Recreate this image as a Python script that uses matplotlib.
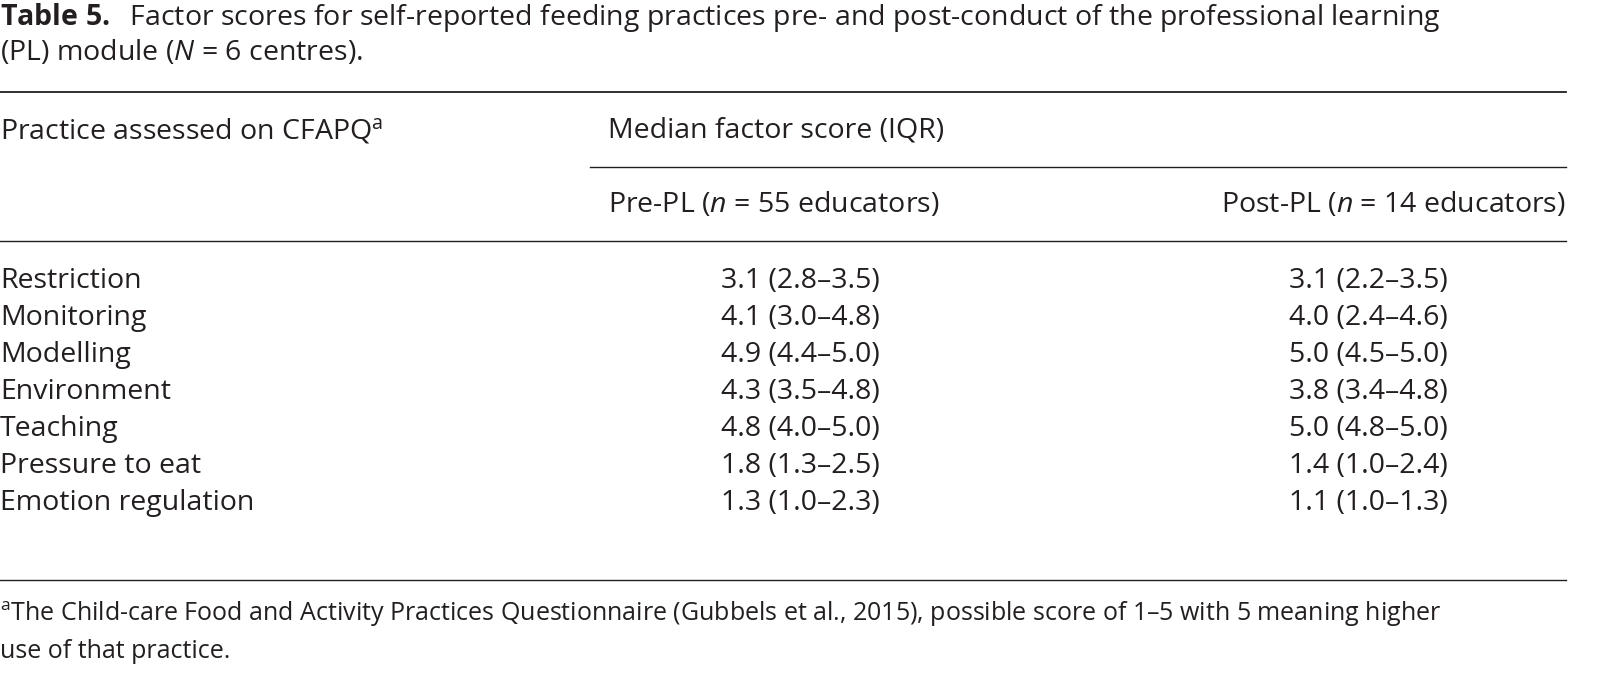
import matplotlib.pyplot as plt

plt.rcParams['font.family'] = ['Open Sans', 'DejaVu Sans']
plt.rcParams['mathtext.fontset'] = 'custom'
plt.rcParams['mathtext.rm'] = 'Open Sans'
plt.rcParams['mathtext.it'] = 'Open Sans:italic'
plt.rcParams['mathtext.bf'] = 'Open Sans:bold'

practices = ['Restriction', 'Monitoring', 'Modelling', 'Environment',
             'Teaching', 'Pressure to eat', 'Emotion regulation']
pre_pl = ['3.1 (2.8–3.5)', '4.1 (3.0–4.8)', '4.9 (4.4–5.0)', '4.3 (3.5–4.8)',
          '4.8 (4.0–5.0)', '1.8 (1.3–2.5)', '1.3 (1.0–2.3)']
post_pl = ['3.1 (2.2–3.5)', '4.0 (2.4–4.6)', '5.0 (4.5–5.0)', '3.8 (3.4–4.8)',
           '5.0 (4.8–5.0)', '1.4 (1.0–2.4)', '1.1 (1.0–1.3)']

W, H = 1624, 698
fig = plt.figure(figsize=(W / 100, H / 100), dpi=100)
ax = fig.add_axes([0, 0, 1, 1])
ax.set_xlim(0, W)
ax.set_ylim(H, 0)
ax.axis('off')

fs = 20.5
kw = dict(fontsize=fs, va='center', color='#231f20')

ax.text(0, 18, r'$\bf{Table\ 5.}$  Factor scores for self-reported feeding practices pre- and post-conduct of the professional learning', **kw)
ax.text(0, 52, r'(PL) module ($\it{N}$ = 6 centres).', **kw)

right = 1566
ax.plot([0, right], [92, 92], color='#231f20', lw=1.3)
ax.text(0, 131, r'Practice assessed on CFAPQ$^{\rm a}$', **kw)
ax.text(608, 131, 'Median factor score (IQR)', **kw)
ax.plot([590, right], [167, 167], color='#231f20', lw=1.0)
ax.text(608, 205, r'Pre-PL ($\it{n}$ = 55 educators)', **kw)
ax.text(right, 205, r'Post-PL ($\it{n}$ = 14 educators)', ha='right', **kw)
ax.plot([0, right], [241, 241], color='#231f20', lw=1.0)

for i, (p, a, b) in enumerate(zip(practices, pre_pl, post_pl)):
    y = 281 + i * 37
    ax.text(0, y, p, **kw)
    ax.text(800, y, a, ha='center', **kw)
    ax.text(1368, y, b, ha='center', **kw)

ax.plot([0, right], [580, 580], color='#231f20', lw=1.0)
fk = dict(fontsize=18, va='center', color='#231f20')
ax.text(0, 614, r'$^{\rm a}$The Child-care Food and Activity Practices Questionnaire (Gubbels et al., 2015), possible score of 1–5 with 5 meaning higher', **fk)
ax.text(0, 651, 'use of that practice.', **fk)

fig.savefig('out.png', dpi=100, facecolor='white')
